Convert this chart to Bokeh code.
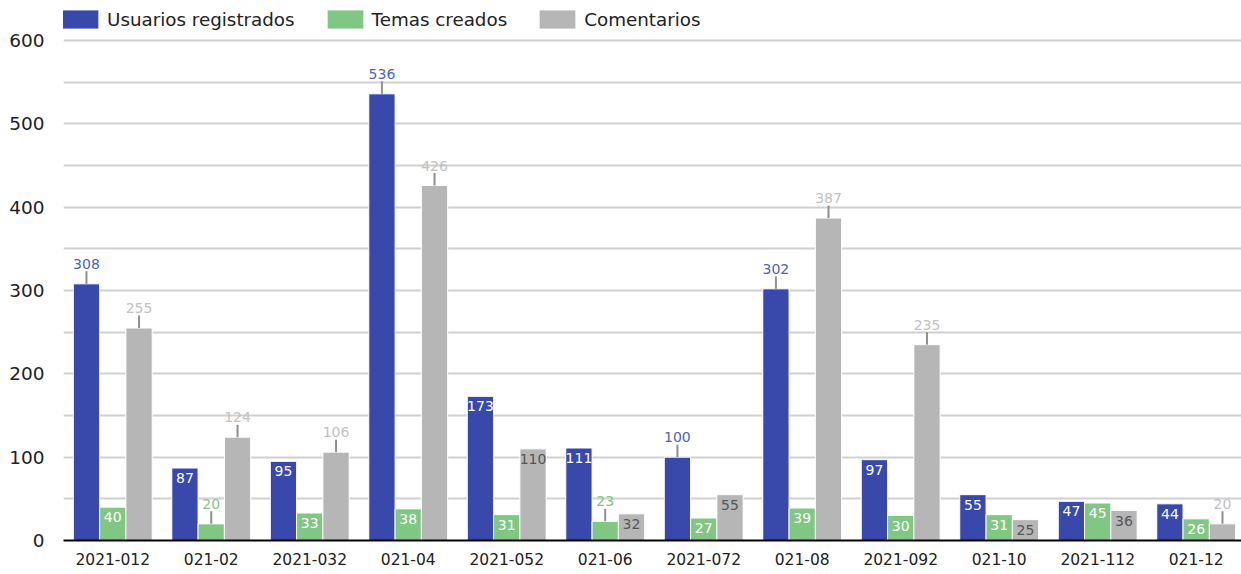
from bokeh.plotting import figure
from bokeh.models import Range1d, Legend, LegendItem, FixedTicker, ColumnDataSource
from bokeh.core.properties import value
from bokeh.embed import file_html
from bokeh.resources import INLINE

categories = ["2021-012", "021-02", "2021-032", "021-04", "2021-052", "021-06",
              "2021-072", "021-08", "2021-092", "021-10", "2021-112", "021-12"]
usuarios = [308, 87, 95, 536, 173, 111, 100, 302, 97, 55, 47, 44]
temas = [40, 20, 33, 38, 31, 23, 27, 39, 30, 31, 45, 26]
comentarios = [255, 124, 106, 426, 110, 32, 55, 387, 235, 25, 36, 20]
series_names = ["Usuarios registrados", "Temas creados", "Comentarios"]
y_ticks = [0, 100, 200, 300, 400, 500, 600]
y_minor = [50, 150, 250, 350, 450, 550]

# label placement: True = label outside (above bar, with leader line)
out_usuarios = [True, False, False, True, False, False, True, True, False, False, False, False]
out_temas = [False, True, False, False, False, True, False, False, False, False, False, False]
out_coment = [True, True, True, True, False, False, False, True, True, False, False, True]

FONT = "DejaVu Sans"
bar_colors = ["#3949ab", "#81c784", "#b6b6b6"]
out_label_colors = ["#4f5fc4", "#81c784", "#c2c2c2"]
in_label_colors = ["#ffffff", "#ffffff", "#555555"]
offsets = [-0.267, 0.0, 0.267]
bw = 0.267

p = figure(width=1241, height=574, output_backend="svg", toolbar_location=None,
           x_range=Range1d(0, 11.96), y_range=Range1d(0, 639.6),
           min_border_left=63, min_border_right=0, min_border_top=7, min_border_bottom=34)
p.outline_line_color = None
p.background_fill_color = "white"
p.border_fill_color = "white"

data = [usuarios, temas, comentarios]
outs = [out_usuarios, out_temas, out_coment]
renderers = []
for k in range(3):
    xs = [i + 0.5 + offsets[k] for i in range(len(categories))]
    src = ColumnDataSource(dict(x=xs, top=data[k]))
    r = p.vbar(x="x", top="top", width=bw, source=src, fill_color=bar_colors[k],
               line_color="white", line_width=1)
    renderers.append(r)
    ox = [x for x, o in zip(xs, outs[k]) if o]
    oy = [v for v, o in zip(data[k], outs[k]) if o]
    ix = [x for x, o in zip(xs, outs[k]) if not o]
    iy = [v for v, o in zip(data[k], outs[k]) if not o]
    if ox:
        p.segment(x0=ox, y0=oy, x1=ox, y1=[v + 15 for v in oy], line_color="#8f8f8f", line_width=2)
        p.text(x=ox, y=oy, text=[str(v) for v in oy], y_offset=-20,
               text_align="center", text_baseline="middle", text_font=value(FONT),
               text_font_size="14px", text_color=out_label_colors[k])
    if ix:
        p.text(x=ix, y=iy, text=[str(v) for v in iy], y_offset=10,
               text_align="center", text_baseline="middle", text_font=value(FONT),
               text_font_size="14px", text_color=in_label_colors[k])

# axes
p.xaxis.ticker = FixedTicker(ticks=[i + 0.5 for i in range(len(categories))])
p.xaxis.major_label_overrides = {i + 0.5: c for i, c in enumerate(categories)}
p.xaxis.major_tick_line_color = None
p.xaxis.minor_tick_line_color = None
p.xaxis.major_tick_out = 0
p.xaxis.minor_tick_out = 0
p.xaxis.axis_line_color = "black"
p.xaxis.axis_line_width = 2
p.xaxis.major_label_text_font = FONT
p.xaxis.major_label_text_font_size = "15.5px"
p.xaxis.major_label_text_color = "#222222"
p.xaxis.major_label_standoff = 12

p.yaxis.ticker = FixedTicker(ticks=y_ticks, minor_ticks=y_minor)
p.yaxis.axis_line_color = None
p.yaxis.major_tick_line_color = None
p.yaxis.minor_tick_line_color = None
p.yaxis.major_tick_out = 0
p.yaxis.minor_tick_out = 0
p.yaxis.major_label_text_font = FONT
p.yaxis.major_label_text_font_size = "18.5px"
p.yaxis.major_label_text_color = "#222222"
p.yaxis.major_label_standoff = 19

p.xgrid.grid_line_color = None
p.ygrid.grid_line_color = "#d0d0d0"
p.ygrid.grid_line_width = 2
p.ygrid.minor_grid_line_color = "#d0d0d0"
p.ygrid.minor_grid_line_width = 2

legend = Legend(items=[LegendItem(label=series_names[k], renderers=[renderers[k]]) for k in range(3)],
                orientation="horizontal", location=(-6, 509),
                glyph_width=46, glyph_height=24, label_standoff=4, spacing=27,
                padding=0, margin=0, border_line_alpha=0, background_fill_alpha=0,
                label_text_font=FONT, label_text_font_size="18.3px", label_text_color="#222222")
p.add_layout(legend, "center")

open("out.html", "w").write(file_html(p, INLINE))
